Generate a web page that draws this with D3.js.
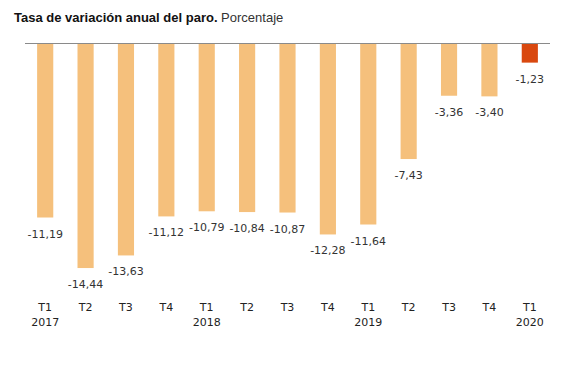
<!DOCTYPE html>
<html>
<head>
<meta charset="utf-8">
<script src="https://cdn.jsdelivr.net/npm/d3@7"></script>
<style>
  body { margin: 0; background: #fff; }
  svg { display: block; font-family: "Liberation Sans", Arial, sans-serif; }
  .lbl { font-family: "DejaVu Sans", Verdana, sans-serif; }
</style>
</head>
<body>
<div id="chart"></div>
<script>
// datos
const quarters = ['T1', 'T2', 'T3', 'T4', 'T1', 'T2', 'T3', 'T4', 'T1', 'T2', 'T3', 'T4', 'T1'];
const years    = ['2017', '', '', '', '2018', '', '', '', '2019', '', '', '', '2020'];
const values   = [-11.19, -14.44, -13.63, -11.12, -10.79, -10.84, -10.87, -12.28, -11.64, -7.43, -3.36, -3.40, -1.23];

const W = 580, H = 369;
const svg = d3.select('#chart').append('svg').attr('width', W).attr('height', H);

// título
const title = svg.append('text').attr('x', 14).attr('y', 22)
  .attr('font-size', 13).attr('fill', '#111');
title.append('tspan').attr('font-weight', 'bold').text('Tasa de variación anual del paro.');
title.append('tspan').attr('fill', '#333').text(' Porcentaje');

const idx = values.map((_, i) => i);
const x = d3.scaleBand().domain(idx).range([25, 550]).paddingInner(0.6).paddingOuter(0.3);
const y = d3.scaleLinear().domain([0, -15]).range([43.5, 43.5 + 15 * 15.55]);

// barras
svg.append('g').selectAll('rect')
  .data(values).enter().append('rect')
  .attr('x', (d, i) => x(i))
  .attr('width', x.bandwidth())
  .attr('y', y(0))
  .attr('height', d => y(d) - y(0))
  .attr('fill', (d, i) => i === values.length - 1 ? '#d9480f' : '#f5c07c');

// línea del cero
svg.append('line')
  .attr('x1', 25).attr('x2', 550)
  .attr('y1', y(0)).attr('y2', y(0))
  .attr('stroke', '#8a8a8a').attr('stroke-width', 1);

// etiquetas de valor
svg.append('g').selectAll('text')
  .data(values).enter().append('text').attr('class', 'lbl')
  .attr('x', (d, i) => x(i) + x.bandwidth() / 2)
  .attr('y', d => y(d) + 20)
  .attr('text-anchor', 'middle')
  .attr('font-size', 11).attr('fill', '#333')
  .text(d => d3.format('.2f')(d).replace('.', ',').replace('−', '-'));

// eje x
const ax = svg.append('g');
ax.selectAll('text.q')
  .data(quarters).enter().append('text').attr('class', 'q lbl')
  .attr('x', (d, i) => x(i) + x.bandwidth() / 2)
  .attr('y', 311)
  .attr('text-anchor', 'middle')
  .attr('font-size', 11).attr('fill', '#222')
  .text(d => d);
ax.selectAll('text.yr')
  .data(years).enter().append('text').attr('class', 'yr lbl')
  .attr('x', (d, i) => x(i) + x.bandwidth() / 2)
  .attr('y', 326)
  .attr('text-anchor', 'middle')
  .attr('font-size', 11).attr('fill', '#222')
  .text(d => d);
</script>
</body>
</html>
